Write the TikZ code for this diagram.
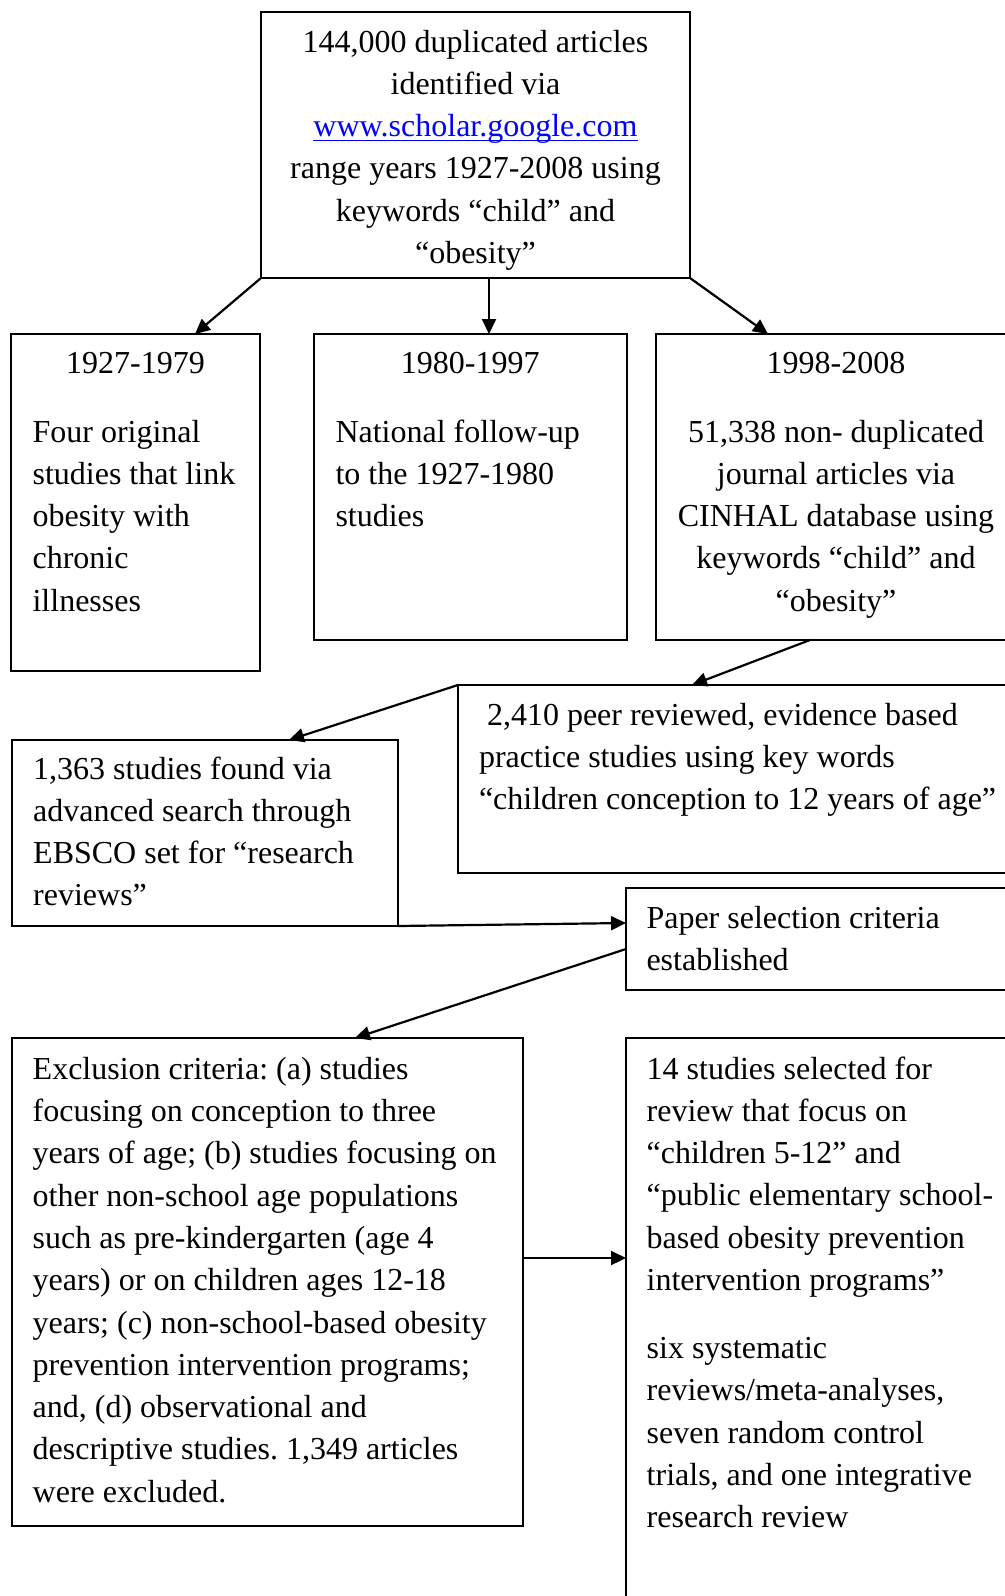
\documentclass[tikz,border=0pt]{standalone}
\usepackage{fontspec}
\setmainfont{Liberation Serif}
\usetikzlibrary{arrows.meta,calc}
\definecolor{linkblue}{RGB}{0,0,255}
\newcommand\myulink[1]{\setbox0\hbox{#1}\rlap{\rule[-2.3pt]{\wd0}{0.7pt}}\box0}
\frenchspacing
\begin{document}
\begin{tikzpicture}[x=0.5pt,y=-0.5pt,
  box/.style={draw, line width=1pt, rectangle, inner sep=0pt, outer sep=0pt, anchor=north west},
  txt/.style={inner sep=0pt, outer sep=0pt, font=\fontsize{16}{21.15}\selectfont},
  arr/.style={line width=1.1pt, -{Triangle[length=7.5pt,width=7pt]}}]
\useasboundingbox (0,0) rectangle (1005,1596);
\clip (0,0) rectangle (1005,1596);

% boxes
\node[box, minimum width=214.5pt, minimum height=133pt] (top) at (261,12) {};
\node[box, minimum width=124.5pt, minimum height=168.5pt] (b1) at (11,334) {};
\node[box, minimum width=156.25pt, minimum height=153pt] (b2) at (314,334) {};
\node[box, minimum width=180pt, minimum height=153pt] (b3) at (656,334) {};
\node[box, minimum width=281pt, minimum height=94pt] (rev) at (458,685) {};
\node[box, minimum width=193pt, minimum height=93pt] (ebs) at (12,740) {};
\node[box, minimum width=197pt, minimum height=51pt] (paper) at (626,888) {};
\node[box, minimum width=255.25pt, minimum height=244pt] (excl) at (12,1038) {};
\node[box, minimum width=197pt, minimum height=291pt] (sel) at (626,1038) {};

% texts
\node[txt, anchor=base] (toptxt) at ([yshift=-20pt]top.north)
  {\begin{tabular}[t]{@{}c@{}}144,000 duplicated articles\\ identified via\\ \textcolor{linkblue}{\myulink{www.scholar.google.com}}\\ range years 1927-2008 using\\ keywords “child” and\\ “obesity”\end{tabular}};

\node[txt, anchor=base] (b1head) at ([yshift=-19.5pt]b1.north) {1927-1979};
\node[txt, anchor=base west] (b1txt) at ([xshift=10.8pt,yshift=-54pt]b1.north west)
  {\begin{tabular}[t]{@{}l@{}}Four original\\ studies that link\\ obesity with\\ chronic\\ illnesses\end{tabular}};

\node[txt, anchor=base] (b2head) at ([yshift=-19.5pt]b2.north) {1980-1997};
\node[txt, anchor=base west] (b2txt) at ([xshift=10.75pt,yshift=-54pt]b2.north west)
  {\begin{tabular}[t]{@{}l@{}}National follow-up\\ to the 1927-1980\\ studies\end{tabular}};

\node[txt, anchor=base] (b3txt) at ([yshift=-19.5pt]b3.north)
  {\begin{tabular}[t]{@{}c@{}}1998-2008\\[13.35pt] 51,338 non- duplicated\\ journal articles via\\ CINHAL database using\\ keywords “child” and\\ “obesity”\end{tabular}};

\node[txt, anchor=base west] (revtxt) at ([xshift=10.5pt,yshift=-20pt]rev.north west)
  {\begin{tabular}[t]{@{}l@{}}\ 2,410 peer reviewed, evidence based\\ practice studies using key words\\ “children conception to 12 years of age”\end{tabular}};

\node[txt, anchor=base west] (ebstxt) at ([xshift=10.6pt,yshift=-19.5pt]ebs.north west)
  {\begin{tabular}[t]{@{}l@{}}1,363 studies found via\\ advanced search through\\ EBSCO set for “research\\ reviews”\end{tabular}};

\node[txt, anchor=base west] (papertxt) at ([xshift=10.25pt,yshift=-20pt]paper.north west)
  {\begin{tabular}[t]{@{}l@{}}Paper selection criteria\\ established\end{tabular}};

\node[txt, anchor=base west] (excltxt) at ([xshift=10.35pt,yshift=-20.6pt]excl.north west)
  {\begin{tabular}[t]{@{}l@{}}Exclusion criteria: (a) studies\\ focusing on conception to three\\ years of age; (b) studies focusing on\\ other non-school age populations\\ such as pre-kindergarten (age 4\\ years) or on children ages 12-18\\ years; (c) non-school-based obesity\\ prevention intervention programs;\\ and, (d) observational and\\ descriptive studies. 1,349 articles\\ were excluded.\end{tabular}};

\node[txt, anchor=base west] (seltxt) at ([xshift=10.35pt,yshift=-20.5pt]sel.north west)
  {\begin{tabular}[t]{@{}l@{}}14 studies selected for\\ review that focus on\\ “children 5-12” and\\ “public elementary school-\\ based obesity prevention\\ intervention programs”\\[12.8pt] six systematic\\ reviews/meta-analyses,\\ seven random control\\ trials, and one integrative\\ research review\end{tabular}};

% connectors
\draw[arr] (top.south west) -- ([xshift=92pt]b1.north west);
\draw[arr] ([xshift=114pt]top.south west) -- ([xshift=87.5pt]b2.north west);
\draw[arr] (top.south east) -- ([xshift=56pt]b3.north west);
\draw[arr] ([xshift=77pt]b3.south west) -- ([xshift=117pt]rev.north west);
\draw[arr] (rev.north west) -- ([xshift=138.5pt]ebs.north west);
\draw[arr] (ebs.south east) -- ([yshift=-17.5pt]paper.north west);
\draw[arr] ([yshift=-30.5pt]paper.north west) -- ([xshift=171.5pt]excl.north west);
\draw[arr] ([yshift=-110pt]excl.north east) coordinate (xa) -- (xa -| sel.west);
\end{tikzpicture}
\end{document}
